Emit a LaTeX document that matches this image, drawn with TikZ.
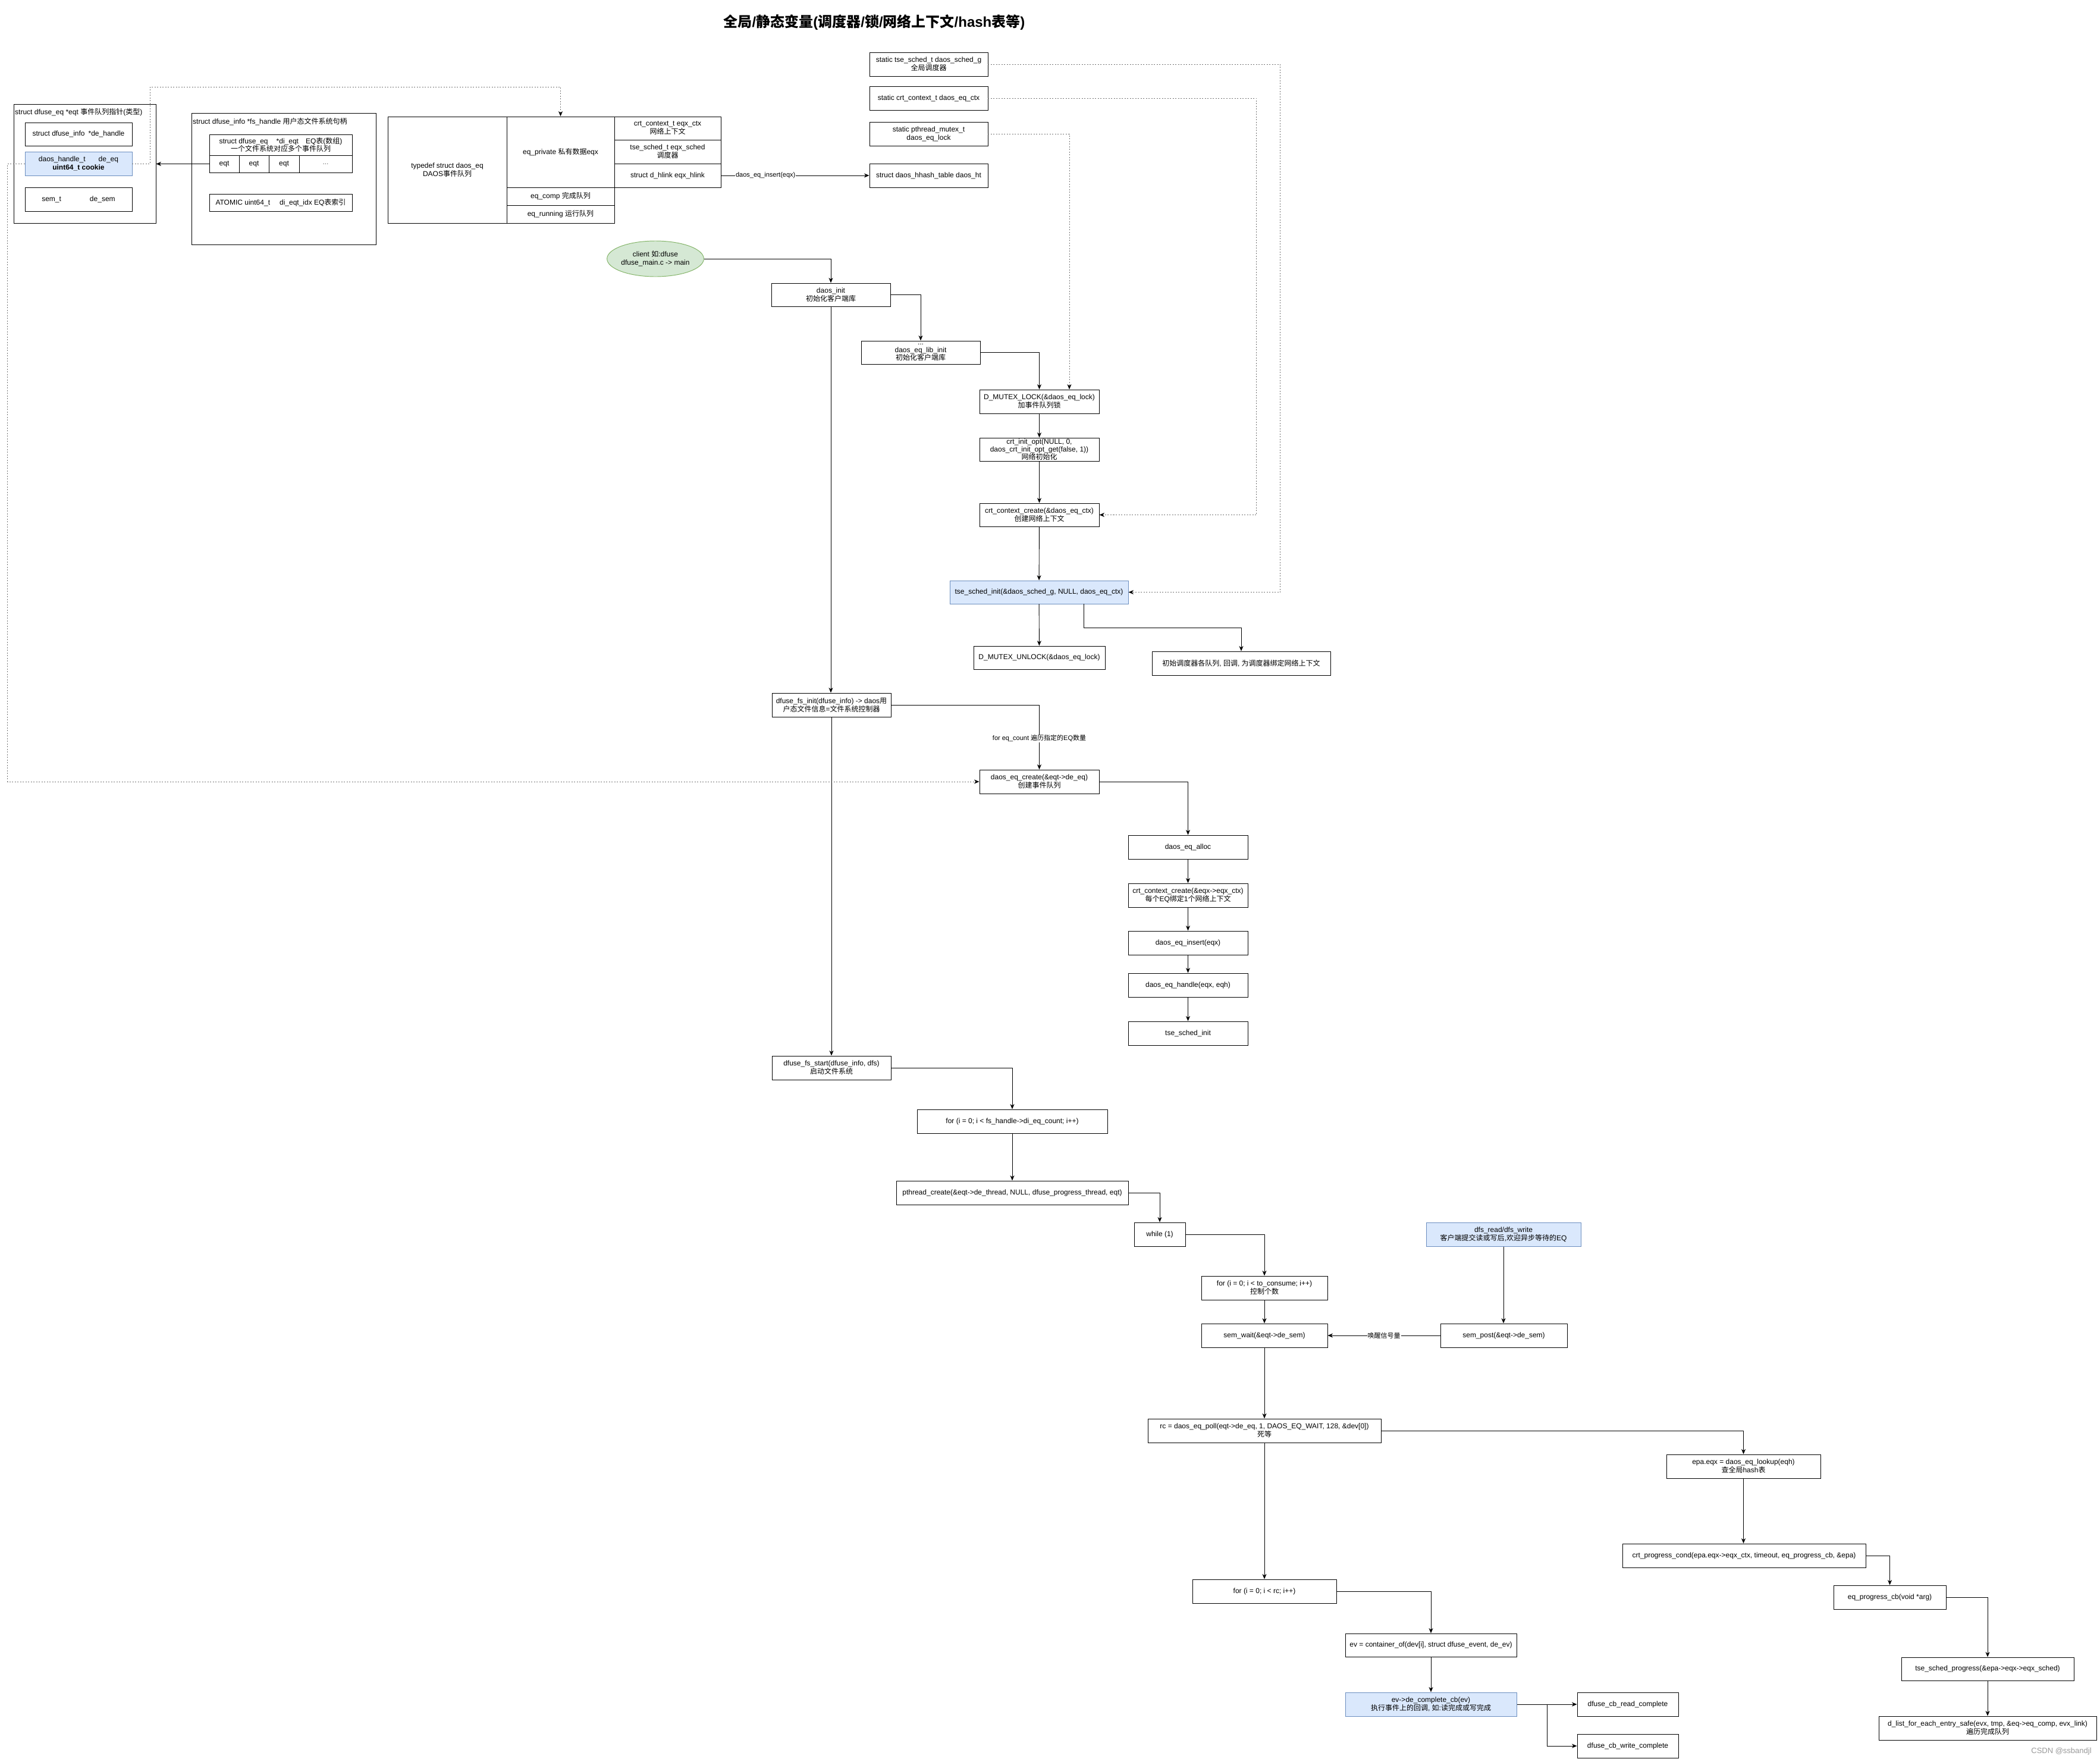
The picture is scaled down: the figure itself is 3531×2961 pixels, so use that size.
\documentclass[tikz,border=0pt]{standalone}
\usepackage{fontspec}
\setmainfont{Liberation Sans}
\newfontfamily\cjkfont{Noto Sans CJK SC}
\newcommand{\zhs}[1]{{\cjkfont #1}}
\usetikzlibrary{arrows.meta,shapes.geometric}
\definecolor{bluefill}{HTML}{DAE8FC}
\definecolor{blueline}{HTML}{6C8EBF}
\definecolor{greenfill}{HTML}{D5E8D4}
\definecolor{greenline}{HTML}{82B366}
\begin{document}
\begin{tikzpicture}[x=1pt,y=-1pt,
  every node/.style={font=\fontsize{12}{14}\selectfont},
  box/.style={draw, line width=0.95pt, align=center, inner sep=1pt, minimum height=40pt},
  bluebox/.style={box, fill=bluefill, draw=blueline},
  arr/.style={line width=0.9pt, -{Stealth[length=8.5pt,width=7pt,inset=2.5pt]}},
  darr/.style={line width=0.9pt, draw=black!55, dash pattern=on 2pt off 2.5pt, -{Stealth[length=8.5pt,width=7pt,inset=2.5pt,black]}},
  lbl/.style={fill=white, inner sep=1pt, font=\fontsize{11}{13}\selectfont}
]
\fill[white] (0,0) rectangle (3531,2961);
\useasboundingbox (0,0) rectangle (3531,2961);

% title
\node[font=\fontsize{24}{28}\selectfont\bfseries] (title) at (1470,38) {\zhs{全局}/\zhs{静态变量}(\zhs{调度器}/\zhs{锁}/\zhs{网络上下文}/hash\zhs{表等})};

% struct dfuse_eq
\node[box, minimum width=239pt, minimum height=200pt] (dfuseEq) at (142.5,275) {};
\node[anchor=west, inner sep=0pt] (dfuseEqLbl) at (25,189) {struct dfuse\_eq *eqt \zhs{事件队列指针}(\zhs{类型})};
\node[box, minimum width=180pt, minimum height=39pt] (deh) at (132,225.5) {struct dfuse\_info\hspace{6pt}*de\_handle};
\node[bluebox, minimum width=180pt, minimum height=40pt] (deeq) at (132,275) {daos\_handle\_t\hspace{22pt}de\_eq\\\textbf{uint64\_t cookie}};
\node[box, minimum width=180pt, minimum height=40pt] (desem) at (132,335) {sem\_t\hspace{48pt}de\_sem};

% struct dfuse_info
\node[box, minimum width=310pt, minimum height=221pt] (dfuseInfo) at (477,300.5) {};
\node[anchor=west, inner sep=0pt] (dfuseInfoLbl) at (324,205) {struct dfuse\_info *fs\_handle \zhs{用户态文件系统句柄}};
\node[box, minimum width=240pt, minimum height=35pt, inner sep=0pt, font=\fontsize{12}{13}\selectfont] (diEqt) at (472,243.5) {struct dfuse\_eq\hspace{14pt}*di\_eqt\hspace{12pt}EQ\zhs{表}(\zhs{数组})\\\zhs{一个文件系统对应多个事件队列}};
\node[box, minimum width=50pt, minimum height=29pt] (c1) at (377,275.5) {eqt};
\node[box, minimum width=50pt, minimum height=29pt] (c2) at (427,275.5) {eqt};
\node[box, minimum width=51pt, minimum height=29pt] (c3) at (477.5,275.5) {eqt};
\node[box, minimum width=89pt, minimum height=29pt] (c4) at (547.5,275.5) {\textcolor{black!60}{...}};
\node[box, minimum width=240pt, minimum height=29pt] (atomic) at (472,340.5) {ATOMIC uint64\_t\hspace{16pt}di\_eqt\_idx EQ\zhs{表索引}};

% typedef struct daos_eq
\node[box, minimum width=200pt, minimum height=179pt] (tdef) at (752,285.5) {typedef struct daos\_eq\\DAOS\zhs{事件队列}};
\node[box, minimum width=181pt, minimum height=119pt] (eqpriv) at (942.5,255.5) {eq\_private \zhs{私有数据}eqx};
\node[box, minimum width=181pt, minimum height=30pt] (eqcomp) at (942.5,330) {eq\_comp \zhs{完成队列}};
\node[box, minimum width=181pt, minimum height=30pt] (eqrun) at (942.5,360) {eq\_running \zhs{运行队列}};
\node[box, minimum width=179pt, minimum height=39pt] (eqxctx) at (1122.5,215.5) {crt\_context\_t eqx\_ctx\\\zhs{网络上下文}};
\node[box, minimum width=179pt, minimum height=40pt] (eqxsched) at (1122.5,255) {tse\_sched\_t eqx\_sched\\\zhs{调度器}};
\node[box, minimum width=179pt, minimum height=40pt] (eqxhlink) at (1122.5,295) {struct d\_hlink eqx\_hlink};

% static variables
\node[box, minimum width=199pt] (sg) at (1561.5,108) {static tse\_sched\_t daos\_sched\_g\\\zhs{全局调度器}};
\node[box, minimum width=199pt] (sctx) at (1561.5,165) {static crt\_context\_t daos\_eq\_ctx};
\node[box, minimum width=199pt] (slock) at (1561.5,225) {static pthread\_mutex\_t\\daos\_eq\_lock};
\node[box, minimum width=199pt] (ht) at (1561.5,295) {struct daos\_hhash\_table daos\_ht};

% init flow
\node[ellipse, draw=greenline, fill=greenfill, line width=0.95pt, minimum width=151pt, minimum height=60pt, align=center, inner sep=0pt] (client) at (1102,435) {client \zhs{如}:dfuse\\dfuse\_main.c -> main};
\node[box, minimum width=200pt, minimum height=39pt] (daosinit) at (1397,495.5) {daos\_init\\\zhs{初始化客户端库}};
\node[box, minimum width=200pt, minimum height=39pt, inner sep=0pt, font=\fontsize{12}{13}\selectfont] (eqlibinit) at (1548,592.5) {...\\daos\_eq\_lib\_init\\\zhs{初始化客户端库}};
\node[box, minimum width=201pt] (dmlock) at (1747.5,675) {D\_MUTEX\_LOCK(\&daos\_eq\_lock)\\\zhs{加事件队列锁}};
\node[box, minimum width=201pt, minimum height=39pt, inner sep=0pt, font=\fontsize{12}{13}\selectfont] (crtinit) at (1747.5,755.5) {crt\_init\_opt(NULL, 0,\\daos\_crt\_init\_opt\_get(false, 1))\\\zhs{网络初始化}};
\node[box, minimum width=201pt, minimum height=39pt] (crtctx) at (1747.5,865.5) {crt\_context\_create(\&daos\_eq\_ctx)\\\zhs{创建网络上下文}};
\node[bluebox, minimum width=300pt, minimum height=39pt] (tseinit) at (1747,995.5) {tse\_sched\_init(\&daos\_sched\_g, NULL, daos\_eq\_ctx)};
\node[box, minimum width=221pt, minimum height=39pt] (dmunlock) at (1747.5,1105.5) {D\_MUTEX\_UNLOCK(\&daos\_eq\_lock)};
\node[box, minimum width=300pt] (schednote) at (2087,1115) {\zhs{初始调度器各队列}, \zhs{回调}, \zhs{为调度器绑定网络上下文}};

% fs init
\node[box, minimum width=200pt] (fsinit) at (1398,1185) {dfuse\_fs\_init(dfuse\_info) -> daos\zhs{用}\\\zhs{户态文件信息}=\zhs{文件系统控制器}};
\node[box, minimum width=201pt] (eqcreate) at (1747.5,1314) {daos\_eq\_create(\&eqt->de\_eq)\\\zhs{创建事件队列}};
\node[box, minimum width=201pt] (eqalloc) at (1997.5,1424) {daos\_eq\_alloc};
\node[box, minimum width=201pt] (crtctx2) at (1997.5,1505) {crt\_context\_create(\&eqx->eqx\_ctx)\\\zhs{每个}EQ\zhs{绑定}1\zhs{个网络上下文}};
\node[box, minimum width=201pt] (eqinsert) at (1997.5,1585) {daos\_eq\_insert(eqx)};
\node[box, minimum width=201pt] (eqhandle) at (1997.5,1656) {daos\_eq\_handle(eqx, eqh)};
\node[box, minimum width=201pt] (tseinit2) at (1997.5,1737) {tse\_sched\_init};

% fs start
\node[box, minimum width=200pt] (fsstart) at (1398,1795) {dfuse\_fs\_start(dfuse\_info, dfs)\\\zhs{启动文件系统}};
\node[box, minimum width=320pt] (forEq) at (1702,1885) {for (i = 0; i < fs\_handle->di\_eq\_count; i++)};
\node[box, minimum width=390pt] (pthread) at (1702,2005) {pthread\_create(\&eqt->de\_thread, NULL, dfuse\_progress\_thread, eqt)};
\node[box, minimum width=86pt] (while) at (1950,2075) {while (1)};
\node[box, minimum width=212pt] (forCons) at (2126,2165) {for (i = 0; i < to\_consume; i++)\\\zhs{控制个数}};
\node[box, minimum width=212pt] (semwait) at (2126,2245) {sem\_wait(\&eqt->de\_sem)};
\node[bluebox, minimum width=260pt] (dfsrw) at (2528,2075) {dfs\_read/dfs\_write\\\zhs{客户端提交读或写后},\zhs{欢迎异步等待的}EQ};
\node[box, minimum width=213pt] (sempost) at (2528.5,2245) {sem\_post(\&eqt->de\_sem)};
\node[box, minimum width=392pt] (rc) at (2126,2405) {rc = daos\_eq\_poll(eqt->de\_eq, 1, DAOS\_EQ\_WAIT, 128, \&dev[0])\\\zhs{死等}};
\node[box, minimum width=259pt] (epa) at (2931.5,2465) {epa.eqx = daos\_eq\_lookup(eqh)\\\zhs{查全局}hash\zhs{表}};
\node[box, minimum width=242pt] (forRc) at (2126,2675) {for (i = 0; i < rc; i++)};
\node[box, minimum width=288pt, minimum height=39pt] (ev) at (2406,2765.5) {ev = container\_of(dev[i], struct dfuse\_event, de\_ev)};
\node[bluebox, minimum width=288pt] (evcb) at (2406,2865) {ev->de\_complete\_cb(ev)\\\zhs{执行事件上的回调}, \zhs{如}:\zhs{读完成或写完成}};
\node[box, minimum width=170pt] (readc) at (2737,2865) {dfuse\_cb\_read\_complete};
\node[box, minimum width=170pt] (writec) at (2737,2935) {dfuse\_cb\_write\_complete};
\node[box, minimum width=409pt] (crtprog) at (2932.5,2615) {crt\_progress\_cond(epa.eqx->eqx\_ctx, timeout, eq\_progress\_cb, \&epa)};
\node[box, minimum width=189pt] (eqprog) at (3177.5,2685) {eq\_progress\_cb(void *arg)};
\node[box, minimum width=290pt, minimum height=39pt] (tseprog) at (3342,2805.5) {tse\_sched\_progress(\&epa->eqx->eqx\_sched)};
\node[box, minimum width=366pt] (dlist) at (3342,2905) {d\_list\_for\_each\_entry\_safe(evx, tmp, \&eq->eq\_comp, evx\_link)\\\zhs{遍历完成队列}};
\node[text=black!40, font=\fontsize{13}{15}\selectfont] (wm) at (3466,2944) {CSDN @ssbandjl};

% solid connectors
\draw[arr] (c1.west) -- (c1.west -| dfuseEq.east);
\draw[arr] (eqxhlink.east) -- (ht.west) node[lbl, pos=0.3] {daos\_eq\_insert(eqx)};
\draw[arr] (client.east) -| (daosinit.north);
\draw[arr] (daosinit.east) -| (eqlibinit.north);
\draw[arr] (eqlibinit.east) -| (dmlock.north);
\draw[arr] (dmlock) -- (crtinit);
\draw[arr] (crtinit) -- (crtctx);
\draw[arr] (crtctx) -- (tseinit);
\draw[arr] (tseinit) -- (dmunlock);
\draw[arr] ([xshift=75pt]tseinit.south) -- ++(0,40) -| (schednote.north);
\draw[arr] (daosinit.south) -- (daosinit.south |- fsinit.north);
\draw[arr] (fsinit.east) -| (eqcreate.north) node[lbl, pos=0.76] {for eq\_count \zhs{遍历指定的}EQ\zhs{数量}};
\draw[arr] (eqcreate.east) -| (eqalloc.north);
\draw[arr] (eqalloc) -- (crtctx2);
\draw[arr] (crtctx2) -- (eqinsert);
\draw[arr] (eqinsert) -- (eqhandle);
\draw[arr] (eqhandle) -- (tseinit2);
\draw[arr] (fsinit.south) -- (fsinit.south |- fsstart.north);
\draw[arr] (fsstart.east) -| (forEq.north);
\draw[arr] (forEq) -- (pthread);
\draw[arr] (pthread.east) -| (while.north);
\draw[arr] (while.east) -| (forCons.north);
\draw[arr] (forCons) -- (semwait);
\draw[arr] (dfsrw.south) -- (dfsrw.south |- sempost.north);
\draw[arr] (sempost.west) -- (semwait.east) node[lbl, midway] {\zhs{唤醒信号量}};
\draw[arr] (semwait) -- (rc);
\draw[arr] (rc.east) -| (epa.north);
\draw[arr] (rc) -- (forRc);
\draw[arr] (forRc.east) -| (ev.north);
\draw[arr] (ev) -- (evcb);
\draw[arr] (evcb.east) -- (readc.west);
\coordinate (br) at (2601,2865);
\draw[arr] (br) |- (writec.west);
\draw[arr] (epa.south) -- (epa.south |- crtprog.north);
\draw[arr] (crtprog.east) -| (eqprog.north);
\draw[arr] (eqprog.east) -| (tseprog.north);
\draw[arr] (tseprog) -- (dlist);

% dashed connectors
\draw[darr] (deeq.east) -- ++(30,0) -- ++(0,-129) -| (eqpriv.north);
\draw[darr] (deeq.west) -- ++(-29,0) |- (eqcreate.west);
\draw[darr] (sctx.east) -- ++(451,0) |- (crtctx.east);
\draw[darr] (sg.east) -- ++(491,0) |- (tseinit.east);
\draw[darr] (slock.east) -| ([xshift=50.5pt]dmlock.north);
\end{tikzpicture}
\end{document}
